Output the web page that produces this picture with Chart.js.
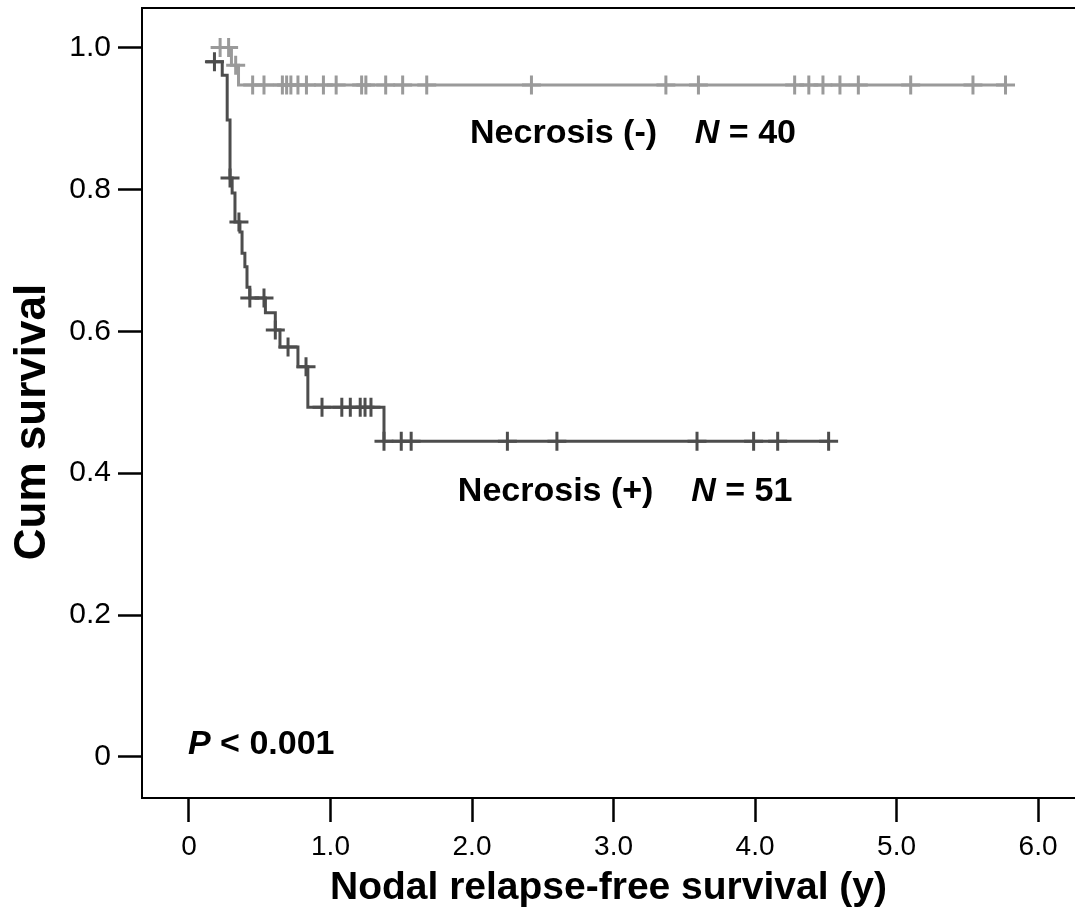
<!DOCTYPE html>
<html>
<head>
<meta charset="utf-8">
<title>Nodal relapse-free survival by necrosis</title>
<script src="https://cdn.jsdelivr.net/npm/chart.js@4.4.1/dist/chart.umd.min.js"></script>
<style>
  html, body { margin: 0; padding: 0; background: #fff; }
  canvas { display: block; }
</style>
</head>
<body>
<canvas id="km-chart" width="1075" height="913"></canvas>
<script>
/* Kaplan-Meier curves: nodal relapse-free survival, necrosis (-) vs (+) */

// Necrosis (-), N = 40 -- step points (years, cumulative survival)
const negTimes = [0.16, 0.30, 0.35, 5.77];
const negSurv = [1.0, 0.975, 0.947, 0.947];
const negCensored = [0.22, 0.28, 0.33, 0.45, 0.53, 0.66, 0.69, 0.72, 0.77, 0.83, 0.95, 1.04,
  1.22, 1.25, 1.39, 1.51, 1.68, 2.42, 3.37, 3.60, 4.28, 4.38, 4.48, 4.60, 4.73, 5.10, 5.54, 5.77];

// Necrosis (+), N = 51
const posTimes = [0.12, 0.235, 0.27, 0.29, 0.305, 0.325, 0.36, 0.375, 0.395, 0.41, 0.43,
  0.54, 0.61, 0.643, 0.77, 0.84, 1.378, 4.52];
const posSurv = [0.980, 0.961, 0.898, 0.816, 0.795, 0.754, 0.740, 0.710, 0.691, 0.662, 0.647,
  0.626, 0.602, 0.578, 0.550, 0.493, 0.445, 0.445];
const posCensored = [0.18, 0.29, 0.353, 0.43, 0.53, 0.61, 0.70, 0.827, 0.94, 1.08, 1.14, 1.21,
  1.244, 1.286, 1.378, 1.50, 1.57, 2.25, 2.60, 3.59, 3.99, 4.16, 4.52];

const xTicks = [0, 1, 2, 3, 4, 5, 6];
const yTicks = [0, 0.2, 0.4, 0.6, 0.8, 1.0];

const FONT = "'Liberation Sans', Arial, sans-serif";
const LIGHT = '#9a9a9a';
const DARK = '#4d4d4d';

// value of the step curve at time t
function survivalAt(times, surv, t) {
  let s = surv[0];
  for (let i = 0; i < times.length; i++) {
    if (times[i] <= t) s = surv[i];
  }
  return s;
}

const toPoints = (times, surv) => times.map((t, i) => ({ x: t, y: surv[i] }));
const toCensor = (cens, times, surv) => cens.map(t => ({ x: t, y: survivalAt(times, surv, t) }));

function curve(data, color) {
  return {
    type: 'line', data, borderColor: color, borderWidth: 3,
    stepped: 'before', pointRadius: 0, fill: false, tension: 0
  };
}

function censors(data, color) {
  return {
    type: 'scatter', data, borderColor: color, backgroundColor: color,
    pointStyle: 'cross', pointRadius: 9.5, borderWidth: 3
  };
}

// top frame line (the plot is boxed, right edge runs off the picture)
const frameTop = {
  id: 'frameTop',
  afterDraw(chart) {
    const { ctx, chartArea } = chart;
    ctx.save();
    ctx.strokeStyle = '#000';
    ctx.lineWidth = 2;
    ctx.beginPath();
    ctx.moveTo(chartArea.left - 1, chartArea.top);
    ctx.lineTo(chartArea.right, chartArea.top);
    ctx.stroke();
    ctx.restore();
  }
};

// y title sits a bit below the middle of the plot, so it is drawn by hand
const yTitle = {
  id: 'yTitle',
  afterDraw(chart) {
    const { ctx } = chart;
    ctx.save();
    ctx.translate(33, 422);
    ctx.rotate(-Math.PI / 2);
    ctx.font = 'bold 44px ' + FONT;
    ctx.fillStyle = '#000';
    ctx.textAlign = 'center';
    ctx.textBaseline = 'middle';
    ctx.fillText('Cum survival', 0, 0);
    ctx.restore();
  }
};

// in-plot labels, anchored in data units
const notes = [
  { x: 1.986, y: 0.879, parts: [['Necrosis (-)', false], ['    ', false], ['N', true], [' = 40', false]] },
  { x: 1.90, y: 0.3735, parts: [['Necrosis (+)', false], ['    ', false], ['N', true], [' = 51', false]] },
  { x: -0.007, y: 0.017, parts: [['P', true], [' < 0.001', false]] }
];

const noteLabels = {
  id: 'noteLabels',
  afterDraw(chart) {
    const { ctx, scales } = chart;
    ctx.save();
    ctx.fillStyle = '#000';
    ctx.textBaseline = 'middle';
    ctx.textAlign = 'left';
    notes.forEach(n => {
      let px = scales.x.getPixelForValue(n.x);
      const py = scales.y.getPixelForValue(n.y);
      n.parts.forEach(([text, italic]) => {
        ctx.font = (italic ? 'italic ' : '') + 'bold 34px ' + FONT;
        ctx.fillText(text, px, py);
        px += ctx.measureText(text).width;
      });
    });
    ctx.restore();
  }
};

new Chart(document.getElementById('km-chart'), {
  data: {
    datasets: [
      curve(toPoints(negTimes, negSurv), LIGHT),
      censors(toCensor(negCensored, negTimes, negSurv), LIGHT),
      curve(toPoints(posTimes, posSurv), DARK),
      censors(toCensor(posCensored, posTimes, posSurv), DARK)
    ]
  },
  options: {
    responsive: false,
    animation: false,
    devicePixelRatio: 1,
    layout: { autoPadding: false, padding: { top: 8, left: 0, right: 0, bottom: 0 } },
    plugins: { legend: { display: false }, tooltip: { enabled: false } },
    scales: {
      x: {
        type: 'linear', min: -0.332, max: 6.261,
        afterBuildTicks: s => { s.ticks = xTicks.map(v => ({ value: v })); },
        afterFit: s => { s.height = 115; s.paddingLeft = 0; s.paddingRight = 0; },
        ticks: {
          callback: v => v === 0 ? '0' : v.toFixed(1),
          font: { family: FONT, size: 28 }, color: '#000', padding: 8,
          maxRotation: 0, autoSkip: false
        },
        grid: { drawOnChartArea: false, tickLength: 24, tickWidth: 2.5, tickColor: '#000' },
        border: { color: '#000', width: 2 },
        title: {
          display: true, text: 'Nodal relapse-free survival (y)', color: '#000',
          font: { family: FONT, size: 39, weight: 'bold' }, padding: { top: 0, bottom: 1 }
        }
      },
      y: {
        type: 'linear', min: -0.0578, max: 1.0557,
        afterBuildTicks: s => { s.ticks = yTicks.map(v => ({ value: v })); },
        afterFit: s => { s.width = 142; s.paddingTop = 0; s.paddingBottom = 0; },
        ticks: {
          callback: v => v === 0 ? '0' : v.toFixed(1),
          font: { family: FONT, size: 30 }, color: '#000', padding: 7, autoSkip: false
        },
        grid: { drawOnChartArea: false, tickLength: 24, tickWidth: 2.5, tickColor: '#000' },
        border: { color: '#000', width: 2 },
        title: { display: false }
      }
    }
  },
  plugins: [frameTop, yTitle, noteLabels]
});
</script>
</body>
</html>
